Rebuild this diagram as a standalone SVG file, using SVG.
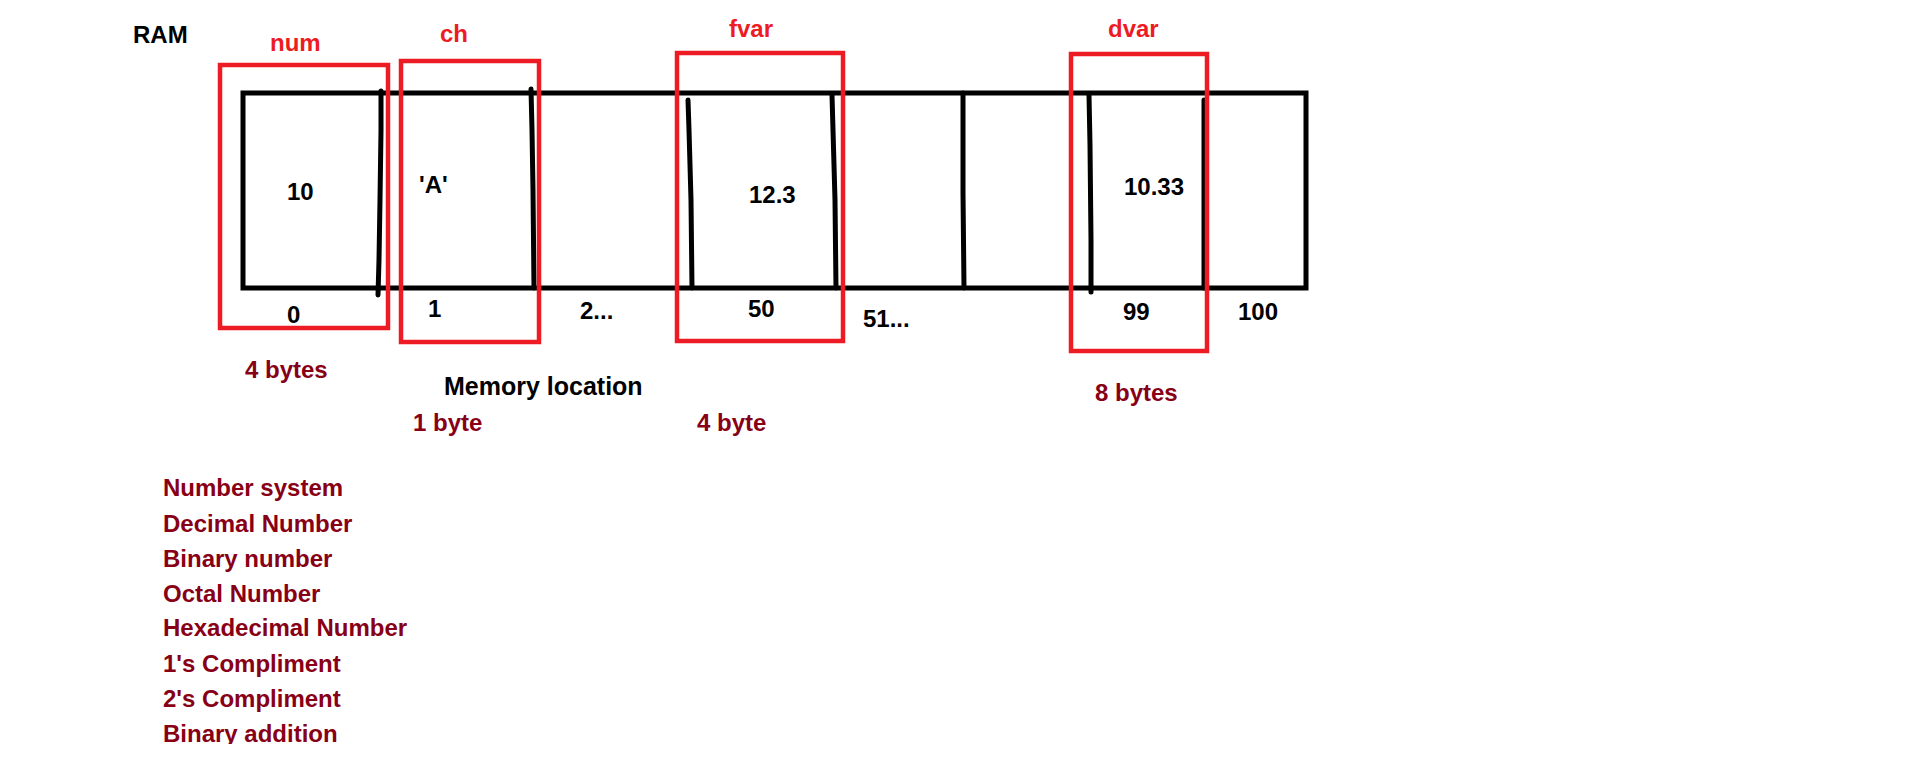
<svg xmlns="http://www.w3.org/2000/svg" width="1910" height="772" viewBox="0 0 1910 772">
  <defs>
    <style>
      text { font-family: "Liberation Sans", Arial, sans-serif; font-weight: bold; font-size: 24px; }
      .blk { fill: #000000; }
      .red { fill: #ED1C24; }
      .dred { fill: #880015; }
      .cell { fill: none; stroke: #000000; stroke-width: 5; }
      .div { fill: none; stroke: #000000; stroke-width: 5; stroke-linecap: round; stroke-linejoin: round; }
      .var { fill: none; stroke: #ED1C24; stroke-width: 4.5; }
    </style>
    <clipPath id="bottomClip">
      <rect x="0" y="0" width="1910" height="744"/>
    </clipPath>
  </defs>
  <rect x="0" y="0" width="1910" height="772" fill="#ffffff"/>

  <text id="ram-label" class="blk" x="133" y="43">RAM</text>

  <g id="ram-strip">
    <rect class="cell" x="243" y="93" width="1063" height="195"/>
    <polyline class="div" points="381,91 381,130 380,200 379,260 378,295"/>
    <polyline class="div" points="531,89 532,130 533,190 534,288"/>
    <polyline class="div" points="688,100 689,130 691,200 692,288"/>
    <polyline class="div" points="832,95 833,130 835,200 836,288"/>
    <polyline class="div" points="963,93 963,193 964,288"/>
    <polyline class="div" points="1089,95 1090,145 1091,240 1091,292"/>
    <polyline class="div" points="1204,100 1204,288"/>
    <text class="blk" x="287" y="200">10</text>
    <text class="blk" x="419" y="193">'A'</text>
    <text class="blk" x="749" y="203">12.3</text>
    <text class="blk" x="1124" y="195">10.33</text>
  </g>

  <g id="addresses">
    <text class="blk" x="287" y="323">0</text>
    <text class="blk" x="428" y="317">1</text>
    <text class="blk" x="580" y="319">2...</text>
    <text class="blk" x="748" y="317">50</text>
    <text class="blk" x="863" y="327">51...</text>
    <text class="blk" x="1123" y="320">99</text>
    <text class="blk" x="1238" y="320">100</text>
  </g>

  <g id="var-num">
    <rect class="var" x="220" y="65" width="168" height="263"/>
    <text class="red" x="270" y="51">num</text>
    <text class="dred" x="245" y="378">4 bytes</text>
  </g>

  <g id="var-ch">
    <rect class="var" x="401" y="61" width="138" height="281"/>
    <text class="red" x="440" y="42">ch</text>
    <text class="dred" x="413" y="431">1 byte</text>
  </g>

  <g id="var-fvar">
    <rect class="var" x="677" y="53" width="166" height="288"/>
    <text class="red" x="729" y="37">fvar</text>
    <text class="dred" x="697" y="431">4 byte</text>
  </g>

  <g id="var-dvar">
    <rect class="var" x="1071" y="54" width="136" height="297"/>
    <text class="red" x="1108" y="37">dvar</text>
    <text class="dred" x="1095" y="401">8 bytes</text>
  </g>

  <text id="memory-location" class="blk" x="444" y="395" style="font-size:25px">Memory location</text>

  <g id="topics" clip-path="url(#bottomClip)">
    <text class="dred" x="163" y="496">Number system</text>
    <text class="dred" x="163" y="532">Decimal Number</text>
    <text class="dred" x="163" y="567">Binary number</text>
    <text class="dred" x="163" y="602">Octal Number</text>
    <text class="dred" x="163" y="636">Hexadecimal Number</text>
    <text class="dred" x="163" y="672">1's Compliment</text>
    <text class="dred" x="163" y="707">2's Compliment</text>
    <text class="dred" x="163" y="742">Binary addition</text>
  </g>
</svg>
